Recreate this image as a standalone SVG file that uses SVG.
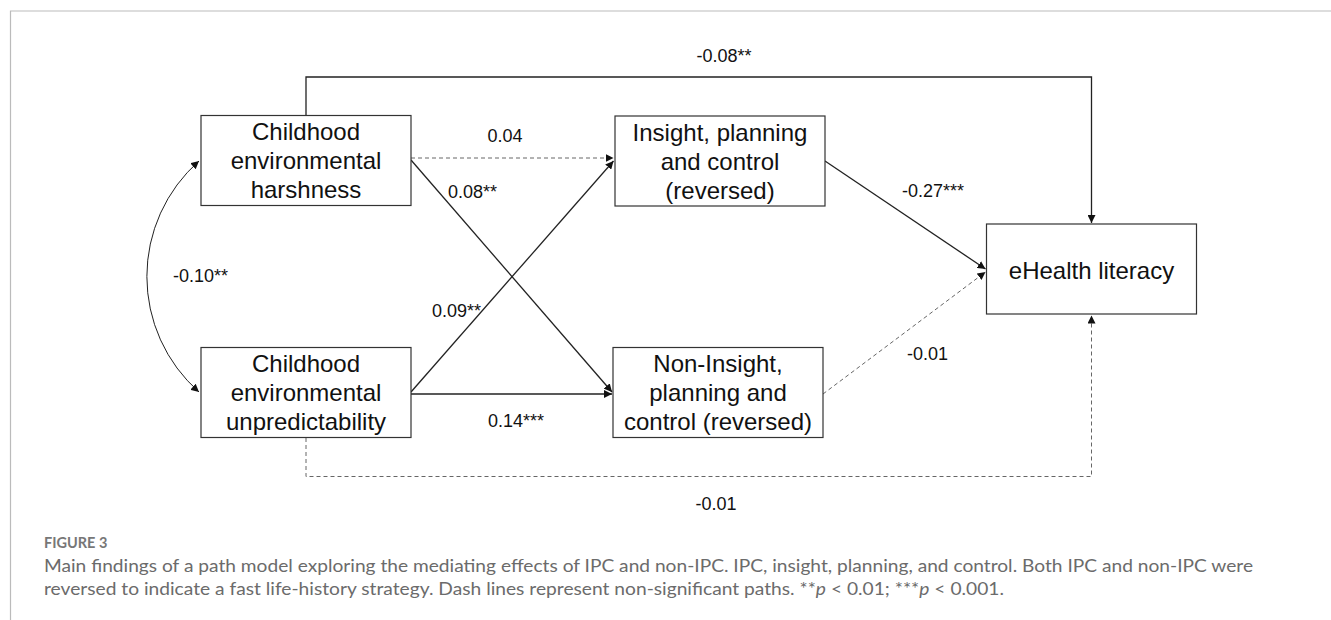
<svg xmlns="http://www.w3.org/2000/svg" width="1331" height="620" viewBox="0 0 1331 620">
<style>
.box{fill:#fff;stroke:#333;stroke-width:1.2}
.nt{font-family:"Liberation Sans",Arial,sans-serif;font-size:24px;fill:#111;text-anchor:middle}
.lb{font-family:"Liberation Sans",Arial,sans-serif;font-size:18px;fill:#111}
.s{fill:none;stroke:#222;stroke-width:1.3}
.d{fill:none;stroke:#666;stroke-width:1;stroke-dasharray:4 3}
.cap{font-family:Lato,"Open Sans",sans-serif;font-size:16.5px;fill:#6b6b6b}
</style>
<defs>
<marker id="ah" markerUnits="userSpaceOnUse" markerWidth="9" markerHeight="8" refX="8" refY="4" orient="auto-start-reverse">
<path d="M0,0 L8,4 L0,8 z" fill="#111"/>
</marker>
</defs>
<rect x="-1" y="-1" width="1333" height="622" fill="#fff"/>
<path d="M10.5,620 L10.5,11 L1331,11" fill="none" stroke="#bbb" stroke-width="1.2"/>

<g id="connectors">
<path class="s" d="M306,115 V77 H1091.5 V223" marker-end="url(#ah)"/>
<path class="d" d="M411,158 H613.5" marker-end="url(#ah)"/>
<path class="s" d="M411,160 L612,392" marker-end="url(#ah)"/>
<path class="s" d="M411,392 L613.5,161" marker-end="url(#ah)"/>
<path class="s" d="M411,394 H612" marker-end="url(#ah)"/>
<path class="s" d="M825,161 L985.5,269" marker-end="url(#ah)"/>
<path class="d" d="M823,394 L985.5,272" marker-end="url(#ah)"/>
<path class="d" d="M306,438 V476.5 H1091.5 V315.5" marker-end="url(#ah)"/>
<path class="s" d="M199,161 A154,154 0 0 0 199,392" marker-start="url(#ah)" marker-end="url(#ah)" style="stroke-width:1"/>
<text class="lb" x="724" y="62" text-anchor="middle">-0.08**</text>
<text class="lb" x="505" y="142" text-anchor="middle">0.04</text>
<text class="lb" x="448" y="198">0.08**</text>
<text class="lb" x="432" y="317">0.09**</text>
<text class="lb" x="488" y="427">0.14***</text>
<text class="lb" x="902" y="197">-0.27***</text>
<text class="lb" x="907" y="360">-0.01</text>
<text class="lb" x="716" y="510" text-anchor="middle">-0.01</text>
<text class="lb" x="173" y="282">-0.10**</text>
</g>

<g id="harshness">
<rect class="box" x="201" y="115.5" width="210" height="90"/>
<text class="nt" x="306" y="140">Childhood</text>
<text class="nt" x="306" y="169">environmental</text>
<text class="nt" x="306" y="198">harshness</text>
</g>
<g id="unpredictability">
<rect class="box" x="201" y="347.5" width="210" height="90"/>
<text class="nt" x="306" y="372">Childhood</text>
<text class="nt" x="306" y="401">environmental</text>
<text class="nt" x="306" y="430">unpredictability</text>
</g>
<g id="ipc">
<rect class="box" x="615" y="116" width="210" height="90"/>
<text class="nt" x="720" y="141">Insight, planning</text>
<text class="nt" x="720" y="170">and control</text>
<text class="nt" x="720" y="199">(reversed)</text>
</g>
<g id="nonipc">
<rect class="box" x="613" y="347.5" width="210" height="90"/>
<text class="nt" x="718" y="372">Non-Insight,</text>
<text class="nt" x="718" y="401">planning and</text>
<text class="nt" x="718" y="430">control (reversed)</text>
</g>
<g id="ehealth">
<rect class="box" x="986.5" y="224" width="210" height="90"/>
<text class="nt" x="1091.5" y="279">eHealth literacy</text>
</g>

<g id="caption">
<text x="44" y="548" style="font-family:Lato,'Open Sans',sans-serif;font-size:14.5px;font-weight:bold;fill:#777">FIGURE 3</text>
<text class="cap" x="44" y="572" textLength="1209" lengthAdjust="spacingAndGlyphs">Main findings of a path model exploring the mediating effects of IPC and non-IPC. IPC, insight, planning, and control. Both IPC and non-IPC were</text>
<text class="cap" x="44" y="595" textLength="960" lengthAdjust="spacingAndGlyphs">reversed to indicate a fast life-history strategy. Dash lines represent non-significant paths. **<tspan font-style="italic">p</tspan> &lt; 0.01; ***<tspan font-style="italic">p</tspan> &lt; 0.001.</text>
</g>
</svg>
